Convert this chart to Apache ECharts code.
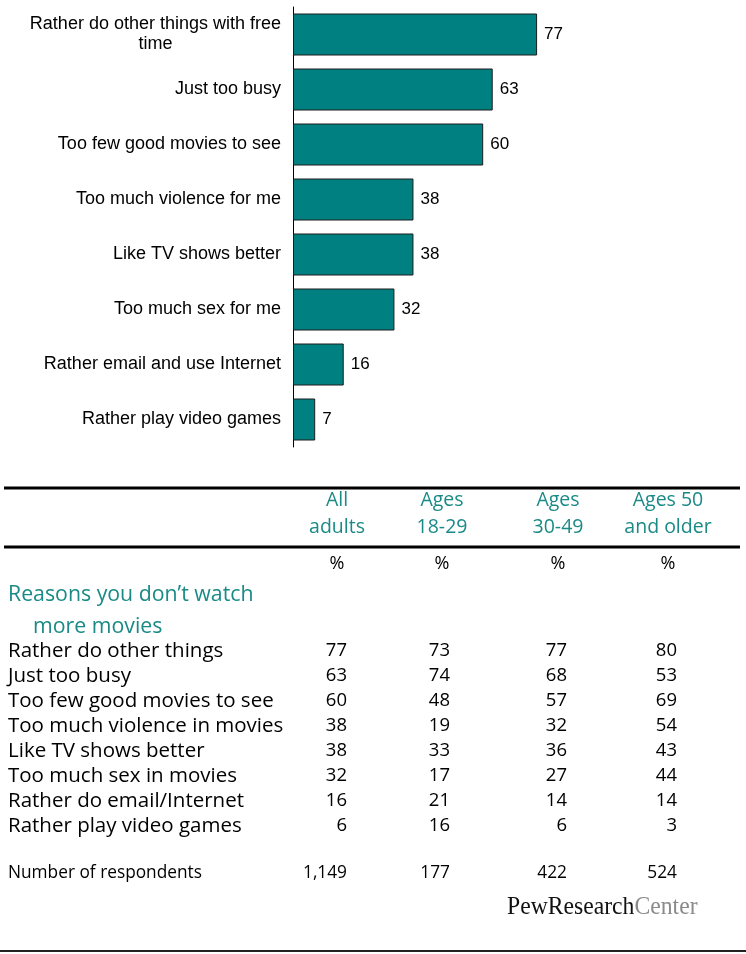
<!DOCTYPE html>
<html>
<head>
<meta charset="utf-8">
<script src="https://cdn.jsdelivr.net/npm/echarts@6/dist/echarts.min.js"></script>
<style>
  html, body { margin: 0; padding: 0; background: #ffffff; }
  #main { width: 746px; height: 954px; }
</style>
</head>
<body>
<div id="main"></div>
<script>
// Bar chart: share of adults citing each reason (%)
const reasons = [
  'Rather do other things with free\ntime',
  'Just too busy',
  'Too few good movies to see',
  'Too much violence for me',
  'Like TV shows better',
  'Too much sex for me',
  'Rather email and use Internet',
  'Rather play video games'
];
const shares = [77, 63, 60, 38, 38, 32, 16, 7];

// Table: reasons by age group
const groupHeaders = [['All', 'adults'], ['Ages', '18-29'], ['Ages', '30-49'], ['Ages 50', 'and older']];
const sectionTitle = ['Reasons you don\u2019t watch', 'more movies'];
const rowLabels = [
  'Rather do other things',
  'Just too busy',
  'Too few good movies to see',
  'Too much violence in movies',
  'Like TV shows better',
  'Too much sex in movies',
  'Rather do email/Internet',
  'Rather play video games'
];
const allAdults = [77, 63, 60, 38, 38, 32, 16, 6];
const ages18to29 = [73, 74, 48, 19, 33, 17, 21, 16];
const ages30to49 = [77, 68, 57, 32, 36, 27, 14, 6];
const ages50plus = [80, 53, 69, 54, 43, 44, 14, 3];
const respondentsLabel = 'Number of respondents';
const respondents = ['1,149', '177', '422', '524'];

const TEAL = '#008080';
const TEAL_TEXT = '#1a8a86';
const LABEL_FONT = '"Liberation Sans", Arial, sans-serif';
const TABLE_FONT = '"Open Sans", "Noto Sans", sans-serif';

const chart = echarts.init(document.getElementById('main'), null, { renderer: 'canvas' });

// ---- table built from the arrays above ----
const colCenter = [337, 442, 558, 668];
const colRight = [347, 450, 567, 677];
const columns = [allAdults, ages18to29, ages30to49, ages50plus];
const graphic = [];

function txt(text, x, y, opts) {
  graphic.push({
    type: 'text',
    x: x, y: y,
    silent: true,
    style: Object.assign({
      text: text,
      textAlign: 'left',
      textVerticalAlign: 'middle',
      fontFamily: TABLE_FONT,
      fontSize: 18,
      fill: '#000'
    }, opts || {})
  });
}
function rule(x1, x2, y, w, color) {
  graphic.push({
    type: 'line', silent: true,
    shape: { x1: x1, y1: y, x2: x2, y2: y },
    style: { stroke: color || '#000', lineWidth: w }
  });
}

rule(4, 740, 488, 3);
rule(4, 740, 547, 3);
rule(0, 746, 951, 2, '#222');

groupHeaders.forEach(function (h, i) {
  txt(h[0], colCenter[i], 500, { textAlign: 'center', fill: TEAL_TEXT, fontSize: 19.5 });
  txt(h[1], colCenter[i], 527, { textAlign: 'center', fill: TEAL_TEXT, fontSize: 19.5 });
  txt('%', colCenter[i], 564, { textAlign: 'center' });
});

txt(sectionTitle[0], 8, 595, { fill: TEAL_TEXT, fontSize: 21.3 });
txt(sectionTitle[1], 33, 627, { fill: TEAL_TEXT, fontSize: 21.3 });

rowLabels.forEach(function (label, r) {
  const y = 651 + r * 25;
  txt(label, 8, y, { fontSize: 20.5 });
  columns.forEach(function (col, c) {
    txt(String(col[r]), colRight[c], y, { textAlign: 'right', fontSize: 18.5 });
  });
});

txt(respondentsLabel, 8, 873, { fontSize: 17.3 });
respondents.forEach(function (n, c) {
  txt(n, colRight[c], 873, { textAlign: 'right', fontSize: 17.3 });
});

// source mark
graphic.push({
  type: 'text', silent: true,
  x: 507, y: 907, scaleX: 0.91,
  style: {
    text: '{a|PewResearch}{b|Center}',
    textVerticalAlign: 'middle',
    rich: {
      a: { fontFamily: '"Liberation Serif", serif', fontSize: 26, fill: '#111' },
      b: { fontFamily: '"Liberation Serif", serif', fontSize: 26, fill: '#8a8a8a' }
    }
  }
});

chart.setOption({
  animation: false,
  backgroundColor: '#ffffff',
  grid: { left: 293, top: 7, width: 317, height: 440, containLabel: false },
  xAxis: {
    type: 'value', min: 0, max: 100, show: false
  },
  yAxis: {
    type: 'category',
    inverse: true,
    data: reasons,
    axisLine: { show: true, lineStyle: { color: '#000', width: 1 } },
    axisTick: { show: false },
    splitLine: { show: false },
    axisLabel: {
      margin: 12,
      color: '#000',
      fontFamily: LABEL_FONT,
      fontSize: 18,
      formatter: function (v) {
        return v.split('\n').map(function (s) { return '{c|' + s + '}'; }).join('\n');
      },
      rich: {
        c: { align: 'center', fontFamily: LABEL_FONT, fontSize: 18, lineHeight: 20, color: '#000' }
      }
    }
  },
  series: [{
    type: 'bar',
    data: shares,
    barWidth: 42,
    itemStyle: { color: TEAL, borderColor: '#1c1c1c', borderWidth: 1 },
    label: {
      show: true, position: 'right', distance: 7,
      color: '#000', fontFamily: LABEL_FONT, fontSize: 17
    }
  }],
  graphic: graphic
});
</script>
</body>
</html>
